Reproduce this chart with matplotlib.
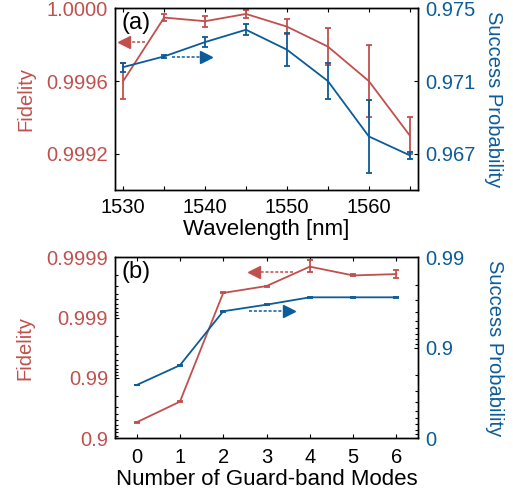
import numpy as np
import matplotlib
matplotlib.use('Agg')
import matplotlib.pyplot as plt
from matplotlib.ticker import FixedLocator, NullFormatter, LogLocator

# (a) fidelity / success probability vs wavelength
wl = [1530, 1535, 1540, 1545, 1550, 1555, 1560, 1565]
fid_a = [0.99960, 0.99995, 0.99993, 0.99997, 0.99990, 0.99979, 0.99960, 0.99930]
fid_a_err = [0.00010, 0.00002, 0.00003, 0.00002, 0.00004, 0.00010, 0.00020, 0.00010]
ps_a = [0.97177, 0.97236, 0.97315, 0.97383, 0.97273, 0.97100, 0.96795, 0.96691]
ps_a_err = [0.00025, 0.00010, 0.00028, 0.00030, 0.00090, 0.00100, 0.00200, 0.00020]

# (b) vs number of guard-band modes
modes = [0, 1, 2, 3, 4, 5, 6]
fid_b = [0.9457, 0.9753, 0.99961, 0.99970, 0.999857, 0.99980, 0.99981]
fid_b_err = [0.0005, 0.0003, 0.000008, 0.000006, 0.00003, 0.000008, 0.00003]
ps_b = [0.742, 0.844, 0.9605, 0.9666, 0.9723, 0.9723, 0.9723]
ps_b_err = [0.001, 0.001, 0.0005, 0.0003, 0.0003, 0.0003, 0.0003]

red = '#C0504D'
blue = '#0B5C99'
plt.rcParams['font.family'] = ['Liberation Sans', 'DejaVu Sans']
plt.rcParams['axes.linewidth'] = 1.0

fig = plt.figure(figsize=(5.13, 4.94), dpi=100)

def style(ax, side, color):
    ax.tick_params(which='both', direction='in', length=3, width=0.8, labelsize=14.5)
    if side == 'left':
        ax.tick_params(axis='y', which='both', left=True, right=False, labelleft=True,
                       labelright=False, labelcolor=color, pad=5)
    else:
        ax.tick_params(axis='y', which='both', left=False, right=True, labelleft=False,
                       labelright=True, labelcolor=color, pad=5)

def arrow(ax, x0, x1, y, color, marker):
    ax.plot([x0, x1], [y, y], transform=ax.transAxes, color=color, ls=(0, (2, 1.2)), lw=1.1)
    ax.plot([x1], [y], transform=ax.transAxes, color=color, marker=marker, ms=9, mec=color)

# ---- panel (a)
ax1 = fig.add_axes([0.2242, 0.6154, 0.5906, 0.3674])
ax2 = ax1.twinx()
ax1.errorbar(wl, fid_a, yerr=fid_a_err, color=red, lw=1.3, capsize=2.5, elinewidth=1.3, capthick=1.3)
ax2.errorbar(wl, ps_a, yerr=ps_a_err, color=blue, lw=1.3, capsize=2.5, elinewidth=1.3, capthick=1.3)
ax1.set_xlim(1529, 1566)
ax1.set_ylim(0.9990, 1.0000)
ax2.set_ylim(0.965, 0.975)
ax1.set_xticks([1530, 1540, 1550, 1560])
ax1.set_xticks([1535, 1545, 1555, 1565], minor=True)
ax1.set_yticks([0.9992, 0.9996, 1.0000])
ax1.set_yticklabels(['0.9992', '0.9996', '1.0000'])
ax2.set_yticks([0.967, 0.971, 0.975])
ax2.set_yticklabels(['0.967', '0.971', '0.975'])
ax2.set_yticks([0.965], minor=True)
style(ax1, 'left', red)
style(ax2, 'right', blue)
ax1.tick_params(axis='x', which='both', top=True, bottom=True, pad=6)
ax1.set_xlabel('Wavelength [nm]', fontsize=16)
ax1.xaxis.set_label_coords(0.5, -0.16)
ax1.set_ylabel('Fidelity', fontsize=14.5, color=red)
ax1.yaxis.set_label_coords(-0.264, 0.5)
ax2.set_ylabel('Success Probability', fontsize=14.5, color=blue, rotation=270, va='center')
ax2.yaxis.set_label_coords(1.248, 0.5)
ax1.text(0.02, 0.98, '(a)', transform=ax1.transAxes, fontsize=17, va='top', ha='left')
arrow(ax2, 0.099, 0.030, 0.817, red, '<')
arrow(ax2, 0.187, 0.300, 0.731, blue, '>')

# ---- panel (b): log of infidelity / failure probability
ax3 = fig.add_axes([0.2242, 0.1128, 0.5906, 0.3664])
ax4 = ax3.twinx()
inf_b = 1 - np.array(fid_b)
fail_b = 1 - np.array(ps_b)
ax3.errorbar(modes, inf_b, yerr=fid_b_err, color=red, lw=1.3, capsize=2.5, elinewidth=1.3, capthick=1.3)
ax4.errorbar(modes, fail_b, yerr=ps_b_err, color=blue, lw=1.3, capsize=2.5, elinewidth=1.3, capthick=1.3)
ax3.set_yscale('log')
ax4.set_yscale('log')
ax3.set_xlim(-0.5, 6.5)
ax3.set_ylim(0.1, 0.0001)
ax4.set_ylim(1, 0.01)
ax3.set_xticks(modes)
ax3.yaxis.set_major_locator(FixedLocator([0.1, 0.01, 0.001, 0.0001]))
ax3.set_yticklabels(['0.9', '0.99', '0.999', '0.9999'])
ax3.yaxis.set_minor_locator(LogLocator(subs=np.arange(2, 10)))
ax3.yaxis.set_minor_formatter(NullFormatter())
ax4.yaxis.set_major_locator(FixedLocator([1, 0.1, 0.01]))
ax4.set_yticklabels(['0', '0.9', '0.99'])
ax4.yaxis.set_minor_locator(LogLocator(subs=np.arange(2, 10)))
ax4.yaxis.set_minor_formatter(NullFormatter())
style(ax3, 'left', red)
style(ax4, 'right', blue)
ax3.tick_params(axis='x', which='both', top=True, bottom=True, pad=7)
ax3.tick_params(axis='y', which='minor', length=2)
ax4.tick_params(axis='y', which='minor', length=2)
ax3.set_xlabel('Number of Guard-band Modes', fontsize=16)
ax3.xaxis.set_label_coords(0.5, -0.172)
ax3.set_ylabel('Fidelity', fontsize=14.5, color=red)
ax3.yaxis.set_label_coords(-0.266, 0.5)
ax4.set_ylabel('Success Probability', fontsize=14.5, color=blue, rotation=270, va='center')
ax4.yaxis.set_label_coords(1.251, 0.5)
ax3.text(0.02, 0.98, '(b)', transform=ax3.transAxes, fontsize=17, va='top', ha='left')
arrow(ax4, 0.587, 0.458, 0.917, red, '<')
arrow(ax4, 0.443, 0.575, 0.703, blue, '>')

fig.savefig('out.png', dpi=100)
